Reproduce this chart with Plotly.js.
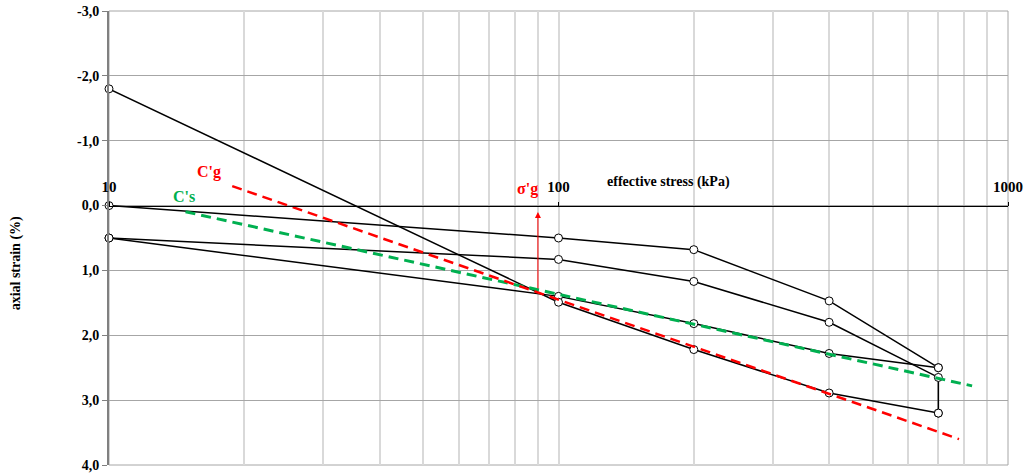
<!DOCTYPE html>
<html>
<head>
<meta charset="utf-8">
<script src="https://cdn.plot.ly/plotly-3.0.1.min.js"></script>
<style>html,body{margin:0;padding:0;background:#fff;}#chart{width:1028px;height:475px;}</style>
</head>
<body>
<div id="chart"></div>
<script>
// effective stress (kPa) for each load step
const stressA = [10, 100, 200, 400, 700];
const strainA = [0.0, 0.50, 0.68, 1.47, 2.50];
const stressB = [10, 100, 200, 400, 700, 700];
const strainB = [0.5, 0.83, 1.17, 1.80, 2.65, 3.20];
const stressC = [10, 100, 200, 400, 700];
const strainC = [0.5, 1.40, 1.82, 2.28, 2.50];
const stressD = [10, 100, 200, 400, 700];
const strainD = [-1.8, 1.49, 2.22, 2.89, 3.20];
// compression line C'g and swelling line C's
const cgStress = [18.8, 778];
const cgStrain = [-0.30, 3.60];
const csStress = [14.8, 832];
const csStrain = [0.095, 2.78];
// preconsolidation stress sigma'g
const sigmaG = 90;
const sigmaArrowStrain = [1.30, 0.10];
// axis ticks
const xMajor = [10, 100, 1000];
const xMinor = [20,30,40,50,60,70,80,90,200,300,400,500,600,700,800,900];
const yTicks = [-3, -2, -1, 0, 1, 2, 3, 4];
const yTickText = ['-3,0','-2,0','-1,0','0,0','1,0','2,0','3,0','4,0'];

const serif = 'Liberation Serif, Times New Roman, serif';
function blackSeries(x, y) {
  return {x: x, y: y, type: 'scatter', mode: 'lines+markers',
    line: {color: '#000', width: 1.5},
    marker: {symbol: 'circle', size: 8, color: '#fff', line: {color: '#000', width: 1}},
    hoverinfo: 'skip', showlegend: false, cliponaxis: false};
}
const data = [
  blackSeries(stressA, strainA),
  blackSeries(stressB, strainB),
  blackSeries(stressC, strainC),
  blackSeries(stressD, strainD),
  {x: csStress, y: csStrain, type: 'scatter', mode: 'lines',
   line: {color: '#00b050', width: 3, dash: '10px,6px'}, showlegend: false, hoverinfo: 'skip'},
  {x: cgStress, y: cgStrain, type: 'scatter', mode: 'lines',
   line: {color: '#ff0000', width: 2.5, dash: '10px,6px'}, showlegend: false, hoverinfo: 'skip'}
];

const layout = {
  width: 1028, height: 475,
  margin: {l: 109, r: 20, t: 11, b: 10, pad: 0},
  paper_bgcolor: '#fff', plot_bgcolor: '#fff',
  showlegend: false,
  xaxis: {
    type: 'log', range: [1, 3],
    side: 'top', anchor: 'free', position: 4/7,
    showline: true, linecolor: '#000', linewidth: 1,
    tickmode: 'array', tickvals: xMajor, ticktext: xMajor.map(String),
    ticks: 'outside', ticklen: 4, tickcolor: '#000', tickwidth: 1,
    ticklabelstandoff: 4,
    tickfont: {family: serif, size: 15, color: '#000', weight: 'bold'},
    showgrid: true, gridcolor: '#d9d9d9', gridwidth: 2,
    minor: {tickmode: 'array', tickvals: xMinor, showgrid: true, gridcolor: '#d9d9d9', gridwidth: 2, ticks: ''},
    zeroline: false, fixedrange: true
  },
  yaxis: {
    range: [4, -3],
    tickmode: 'array', tickvals: yTicks, ticktext: yTickText,
    ticks: 'outside', ticklen: 5, tickcolor: '#808080', tickwidth: 1,
    tickfont: {family: serif, size: 14, color: '#000', weight: 'bold'},
    showline: true, linecolor: '#808080', linewidth: 2,
    showgrid: true, gridcolor: '#a6a6a6', gridwidth: 1,
    zeroline: false, fixedrange: true
  },
  shapes: [
    {type: 'rect', xref: 'paper', yref: 'paper', x0: 0, x1: 1, y0: 0, y1: 1,
     line: {color: '#a6a6a6', width: 1}, layer: 'below'}
  ],
  annotations: [
    {xref: 'paper', yref: 'paper', x: -0.103, y: 0.445, xanchor: 'center', yanchor: 'middle',
     text: 'axial strain (%)', textangle: -90,
     showarrow: false, font: {family: serif, size: 14, color: '#000', weight: 'bold'}},
    {x: 2.2436, y: -0.36, text: 'effective stress (kPa)', showarrow: false,
     font: {family: serif, size: 14, color: '#000', weight: 'bold'}},
    {x: 1.2225, y: -0.52, text: "C'g", showarrow: false,
     font: {family: serif, size: 16, color: '#ff0000', weight: 'bold'}},
    {x: 1.1669, y: -0.146, text: "C's", showarrow: false,
     font: {family: serif, size: 16, color: '#00b050', weight: 'bold'}},
    {x: 1.930, y: -0.25, text: "σ'g", showarrow: false,
     font: {family: serif, size: 16, color: '#ff0000', weight: 'bold'}},
    {x: Math.log10(sigmaG), y: sigmaArrowStrain[1], ax: Math.log10(sigmaG), ay: sigmaArrowStrain[0],
     axref: 'x', ayref: 'y', text: '', showarrow: true, arrowhead: 2, arrowsize: 1.2,
     arrowwidth: 1, arrowcolor: '#ff0000'}
  ]
};
Plotly.newPlot('chart', data, layout, {staticPlot: true, displayModeBar: false});
</script>
</body>
</html>
